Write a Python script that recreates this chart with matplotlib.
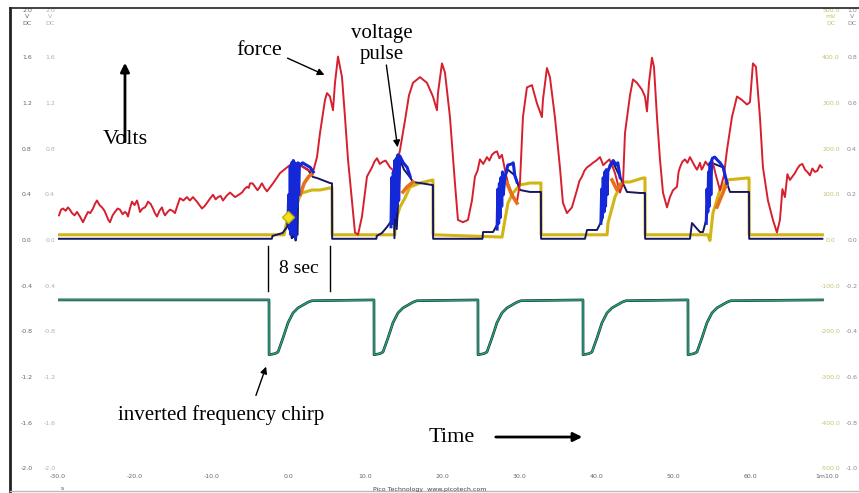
import numpy as np
import matplotlib
matplotlib.use("Agg")
import matplotlib.pyplot as plt
from matplotlib.lines import Line2D

nan = float("nan")

# ---------------- data (seconds, volts) ----------------
red_t = [-29.87,-29.35,-28.70,-28.18,-27.53,-26.75,-26.10,-25.45,-24.93,-24.28,
         -23.63,-23.24,-22.59,-21.94,-21.29,-20.90,-20.38,-19.73,-19.34,-18.69,
         -18.30,-17.65,-17.13,-16.48,-16.09,-15.44,-14.79,-14.14,-13.23,-12.45,
         -11.93,-11.28,-10.62,-9.84,-9.19,-8.54,-7.63,-6.98,-6.07,-5.42,
         -5.03,-4.38,-3.73,-3.47,-2.82,-2.04,-1.13,-0.22,0.56,1.47,
         2.38,3.16,3.68,4.07,4.72,4.98,5.37,5.76,6.02,6.41,
         6.93,7.32,7.71,8.23,8.62,9.01,9.53,10.18,10.83,11.48,
         12.26,13.17,13.82,14.47,15.12,15.64,16.16,17.07,17.98,18.76,
         19.28,19.41,19.93,20.32,20.97,21.62,22.01,22.66,23.31,23.83,
         24.22,24.87,25.78,26.43,27.08,27.73,28.12,28.51,29.16,29.68,
         30.07,30.46,30.98,31.63,32.28,32.93,33.06,33.58,33.97,34.62,
         35.27,35.66,36.18,36.83,37.48,38.14,38.79,39.57,40.48,41.39,
         42.04,42.43,43.08,43.47,43.73,44.38,44.77,45.29,45.94,46.33,
         46.59,46.85,47.24,47.50,47.89,48.28,48.67,49.19,49.58,49.97,
         50.49,50.88,51.53,52.18,52.57,53.09,53.48,53.87,54.52,55.04,
         55.56,56.08,56.60,56.99,57.64,58.29,58.94,59.59,59.98,60.37,
         60.76,61.28,61.67,62.32,62.97,63.49,63.88,64.53,65.18,65.83,
         66.48,67.13,67.78,68.43,69.08,69.34]
red_v = [0.22,0.28,0.29,0.24,0.25,0.16,0.25,0.28,0.35,0.29,
         0.21,0.16,0.25,0.27,0.25,0.21,0.34,0.35,0.25,0.29,
         0.34,0.28,0.21,0.29,0.22,0.27,0.24,0.37,0.38,0.38,
         0.34,0.28,0.33,0.40,0.38,0.35,0.42,0.38,0.42,0.47,
         0.50,0.47,0.47,0.50,0.43,0.50,0.59,0.64,0.68,0.66,
         0.62,0.60,0.73,0.94,1.23,1.29,1.26,1.14,1.38,1.61,
         1.43,1.08,0.71,0.35,0.07,0.05,0.21,0.56,0.64,0.72,
         0.69,0.64,0.60,0.79,1.05,1.27,1.38,1.43,1.38,1.26,
         1.14,1.29,1.55,1.47,1.08,0.50,0.18,0.16,0.18,0.35,
         0.56,0.71,0.73,0.75,0.78,0.75,0.62,0.50,0.38,0.34,
         0.50,1.08,1.34,1.36,1.20,1.08,1.23,1.51,1.43,1.08,
         0.64,0.33,0.24,0.29,0.44,0.56,0.64,0.68,0.73,0.69,
         0.66,0.59,0.42,0.50,0.94,1.27,1.41,1.38,1.32,1.26,
         1.13,1.38,1.60,1.52,1.08,0.71,0.42,0.29,0.38,0.44,
         0.47,0.64,0.71,0.73,0.68,0.62,0.68,0.64,0.66,0.71,
         0.57,0.44,0.57,0.79,1.08,1.26,1.23,1.19,1.21,1.55,
         1.52,1.08,0.64,0.35,0.18,0.07,0.18,0.38,0.53,0.59,
         0.66,0.62,0.57,0.60,0.66,0.64]
# extra jagged readings of the noisy force trace
red_extra_t = [-29.6, -29.0, -28.45, -27.85, -27.15, -26.4, -25.8, -25.2, -24.6, -23.95,
               -23.45, -22.9, -22.25, -21.6, -21.1, -20.65, -20.05, -19.55, -19.0, -18.5,
               -17.95, -17.4, -16.8, -16.3, -15.75, -15.1, -14.45, -13.7, -12.85, -12.2,
               -11.6, -10.95, -10.2, -9.5, -8.85, -8.1, -7.3, -6.5, -5.75, -5.2,
               -4.7, -4.05, -3.6, -3.15, 10.5, 11.15, 11.85, 12.6, 13.5,
               24.55, 25.3, 26.1, 26.75, 27.4, 37.8, 38.45, 39.2, 40.0, 40.9, 41.7,
               50.7, 51.2, 51.85, 52.9, 53.3, 53.7, 54.2, 54.8,
               64.2, 64.85, 65.5, 66.15, 66.8, 67.45, 68.1, 68.75]
red_extra_v = [0.27, 0.26, 0.27, 0.22, 0.21, 0.21, 0.24, 0.32, 0.31, 0.26,
               0.18, 0.22, 0.28, 0.23, 0.24, 0.28, 0.31, 0.31, 0.28, 0.31,
               0.32, 0.24, 0.26, 0.25, 0.25, 0.26, 0.31, 0.35, 0.35, 0.36,
               0.31, 0.30, 0.37, 0.36, 0.39, 0.39, 0.40, 0.40, 0.45, 0.46,
               0.50, 0.44, 0.49, 0.46, 0.60, 0.69, 0.67, 0.70, 0.62,
               0.61, 0.67, 0.70, 0.77, 0.72, 0.52, 0.61, 0.66, 0.70, 0.66, 0.71,
               0.60, 0.69, 0.68, 0.64, 0.65, 0.62, 0.69, 0.67,
               0.45, 0.58, 0.56, 0.63, 0.67, 0.60, 0.63, 0.61]

navy_t = [-30, -2.2, -2.1, -0.8, -0.2, 0.15, 0.3, 0.4, 0.5, 0.6,
          0.75, 0.9, 1.0, 1.15, 1.3, 1.5, 2.5, 3.16, 3.68, 4.33,
          5.37, 5.63, 5.65, 11.4, 11.45, 12.13, 12.78, 13.43, 13.6, 13.75,
          13.9, 14.05, 14.5, 15.0, 15.76, 16.15, 17.07, 18.63, 18.76, 18.78,
          25.2, 25.27, 26.57, 27.22, 27.8, 28.5, 29.4, 30.07, 31.37, 32.67,
          32.8, 32.82, 38.53, 38.79, 40.09, 40.74, 41.4, 42.2, 43.08, 43.99,
          45.68, 46.33, 46.35, 52.18, 52.44, 53.48, 53.87, 54.39, 55.0, 56.47,
          56.99, 57.38, 59.59, 59.86, 59.88, 69.4]
navy_v = [0.015, 0.015, 0.04, 0.066, 0.12, 0.24, 0.5, 0.02, 0.6, 0.03,
          0.65, 0.0, 0.62, 0.05, 0.66, 0.66, 0.62, 0.556, 0.547, 0.53,
          0.503, 0.50, 0.015, 0.015, 0.04, 0.066, 0.118, 0.179, 0.5, 0.02,
          0.6, 0.1, 0.7, 0.62, 0.556, 0.512, 0.503, 0.486, 0.486, 0.015,
          0.015, 0.074, 0.074, 0.153, 0.5, 0.62, 0.57, 0.442, 0.425, 0.425,
          0.425, 0.015, 0.015, 0.092, 0.092, 0.179, 0.6, 0.68, 0.556, 0.425,
          0.416, 0.416, 0.015, 0.015, 0.153, 0.074, 0.074, 0.206, 0.68, 0.64,
          0.503, 0.425, 0.425, 0.425, 0.015, 0.015]

yel_t = [-30, -0.6, -0.1, 0.3, 0.6, 1.0, 1.5, 1.73, 3.03, 4.07,
         5.37, 5.63, 5.65, 13.8, 13.82, 14.47, 15.12, 15.76, 17.07, 18.76,
         18.78, 27.74, 28.12, 28.51, 29.16, 30.07, 31.37, 32.67, 32.8, 32.82,
         41.4, 41.52, 42.43, 43.34, 44.38, 46.07, 46.33, 46.35, 54.5, 54.78,
         55.17, 56.08, 56.99, 59.59, 59.86, 59.88, 69.4]
yel_v = [0.05, 0.05, 0.21, 0.35, 0.05, 0.3, 0.40, 0.416, 0.442, 0.442,
         0.46, 0.46, 0.05, 0.05, 0.153, 0.293, 0.372, 0.468, 0.503, 0.53,
         0.05, 0.03, 0.179, 0.328, 0.416, 0.486, 0.503, 0.503, 0.503, 0.05,
         0.05, 0.153, 0.381, 0.512, 0.512, 0.547, 0.547, 0.05, 0.05, 0.0,
         0.241, 0.442, 0.53, 0.547, 0.547, 0.05, 0.05]
marker_t = [-0.1]
marker_v = [0.21]

orange_t = [1.5, 2.0, 2.6, 3.0, nan, 14.86, 15.38, 16.16, nan, 28.38, 29.03, 29.68,
            nan, 42.04, 42.69, 43.08, nan, 55.69, 56.34, 56.99]
orange_v = [0.40, 0.50, 0.56, 0.58, nan, 0.425, 0.468, 0.512, nan, 0.503, 0.398, 0.328,
            nan, 0.53, 0.442, 0.486, nan, 0.293, 0.398, 0.503]

blue_t = [-0.1, 0.0, 0.1, 0.2, 0.3, 0.4, 0.5, 0.6, 0.7, 0.8, 0.9, 1.0, 1.1, 1.2, 1.3, 1.4, 1.5,
          1.8, 2.3, 2.8, 3.2, nan,
          13.3, 13.4, 13.5, 13.6, 13.7, 13.8, 13.9, 14.0, 14.1, 14.2, 14.3, 14.45, 14.9, 15.4, 15.8, nan,
          27.1, 27.2, 27.3, 27.4, 27.5, 27.6, 27.7, 27.8, 27.9, 28.1, 28.5, 29.0, 29.2, 29.4, 29.7, nan,
          40.6, 40.7, 40.8, 40.9, 41.0, 41.1, 41.2, 41.3, 41.4, 41.5, 41.8, 42.2, 42.6, 42.8, 43.1, nan,
          54.3, 54.4, 54.5, 54.6, 54.7, 54.8, 54.9, 55.0, 55.1, 55.4, 55.8, 56.1, 56.5, 57.0]
blue_v = [0.15, 0.4, 0.1, 0.65, 0.05, 0.68, 0.1, 0.7, 0.05, 0.68, 0.02, 0.66, 0.3, 0.68, 0.4, 0.67, 0.66,
          0.68, 0.66, 0.64, 0.6, nan,
          0.12, 0.55, 0.15, 0.6, 0.2, 0.7, 0.25, 0.72, 0.3, 0.75, 0.35, 0.74, 0.68, 0.64, 0.56, nan,
          0.1, 0.45, 0.15, 0.5, 0.2, 0.55, 0.3, 0.6, 0.4, 0.55, 0.66, 0.67, 0.68, 0.57, 0.51, nan,
          0.15, 0.45, 0.2, 0.55, 0.25, 0.6, 0.3, 0.62, 0.4, 0.6, 0.66, 0.70, 0.66, 0.68, 0.55, nan,
          0.15, 0.45, 0.25, 0.6, 0.3, 0.68, 0.4, 0.7, 0.72, 0.73, 0.70, 0.68, 0.64, 0.5]

chirp_t = [-30,
           -2.56, -2.55, -1.78, -1.39, -0.74, -0.09, 0.56, 1.21, 1.86, 2.51, 3.03,
           11.09, 11.10, 11.87, 12.26, 12.91, 13.56, 14.21, 14.86, 15.51, 16.16, 16.68,
           24.61, 24.62, 25.39, 25.78, 26.43, 27.08, 27.73, 28.38, 29.03, 29.68, 30.20,
           38.27, 38.28, 39.05, 39.44, 40.09, 40.74, 41.39, 42.04, 42.69, 43.34, 43.86,
           51.92, 51.93, 52.70, 53.09, 53.74, 54.39, 55.04, 55.69, 56.34, 56.99, 57.51,
           69.4]
chirp_v = [-0.52,
           -0.52, -1.0, -0.99, -0.976, -0.853, -0.72, -0.634, -0.59, -0.565, -0.54, -0.527,
           -0.52, -1.0, -0.99, -0.976, -0.853, -0.72, -0.634, -0.59, -0.565, -0.54, -0.527,
           -0.52, -1.0, -0.99, -0.976, -0.853, -0.72, -0.634, -0.59, -0.565, -0.54, -0.527,
           -0.52, -1.0, -0.99, -0.976, -0.853, -0.72, -0.634, -0.59, -0.565, -0.54, -0.527,
           -0.52, -1.0, -0.99, -0.976, -0.853, -0.72, -0.634, -0.59, -0.565, -0.54, -0.527,
           -0.52]

x_ticks = [-30, -20, -10, 0, 10, 20, 30, 40, 50, 60, 70]
x_labels = ["-30.0", "-20.0", "-10.0", "0.0", "10.0", "20.0", "30.0", "40.0", "50.0", "60.0", "1m10.0"]
y_ticks = [2.0, 1.6, 1.2, 0.8, 0.4, 0.0, -0.4, -0.8, -1.2, -1.6, -2.0]
left_labels = ["2.0", "1.6", "1.2", "0.8", "0.4", "0.0", "-0.4", "-0.8", "-1.2", "-1.6", "-2.0"]
right_mv_labels = ["500.0", "400.0", "300.0", "200.0", "100.0", "0.0",
                   "-100.0", "-200.0", "-300.0", "-400.0", "-500.0"]
right_v_labels = ["1.0", "0.8", "0.6", "0.4", "0.2", "0.0", "-0.2", "-0.4", "-0.6", "-0.8", "-1.0"]

# merge the two sets of force readings in time order
rt = np.array(red_t + red_extra_t)
rv = np.array(red_v + red_extra_v)
order = np.argsort(rt)
rt, rv = rt[order], rv[order]

# ---------------- figure ----------------
W, H = 859, 493
fig = plt.figure(figsize=(W / 100, H / 100), dpi=100)
fig.patch.set_facecolor("white")
ax = fig.add_axes([58 / W, 1 - 469 / H, 769 / W, 457 / H])
ax.set_xlim(-30, 70)
ax.set_ylim(-2, 2)
for s in ax.spines.values():
    s.set_visible(False)
ax.set_yticks([])
ax.set_xticks(x_ticks)
ax.set_xticklabels(x_labels)
ax.tick_params(axis="x", length=0, pad=3.5, labelsize=4.5, labelcolor="#666666")

serif = ["Liberation Serif", "DejaVu Serif"]

# traces
ax.plot(chirp_t, chirp_v, color="#1c2a24", lw=1.9, zorder=2, solid_joinstyle="round")
ax.plot(chirp_t, chirp_v, color="#22a283", lw=1.1, zorder=3, solid_joinstyle="round")
ax.plot(yel_t, yel_v, color="#d2b514", lw=2.2, zorder=3)
ax.plot(navy_t, navy_v, color="#161660", lw=1.4, zorder=4)
ax.plot(rt, rv, color="#d6202e", lw=1.4, zorder=5)
ax.plot(orange_t, orange_v, color="#e8701a", lw=2.6, zorder=6)
ax.plot(blue_t, blue_v, color="#1428d8", lw=2.2, zorder=7)
ax.plot(marker_t, marker_v, linestyle="none", marker="D", ms=6,
        mfc="#f2e21c", mec="#c8b000", zorder=8)

# tick label columns
ytr = ax.get_yaxis_transform()
for yv, l1, l2, r1, r2 in zip(y_ticks, left_labels, left_labels, right_mv_labels, right_v_labels):
    top = (yv == 2.0)
    if top:
        l1 = l1 + "\nV\nDC"
        l2 = l2 + "\nV\nDC"
        r1 = r1 + "\nmV\nDC"
        r2 = r2 + "\nV\nDC"
    va = "top" if top else "center"
    yy = yv + 0.035 if top else yv
    kw = dict(transform=ytr, fontsize=4.5, va=va, ha="center", linespacing=1.35)
    ax.text((27 - 58) / 769, yy, l1, color="#666666", **kw)
    ax.text((50 - 58) / 769, yy, l2, color="#a8b4a8", **kw)
    ax.text((831 - 58) / 769, yy, r1, color="#c8c070", **kw)
    ax.text((852 - 58) / 769, yy, r2, color="#888888", **kw)

fig.text(62 / W, 1 - 489 / H, "s", fontsize=4.5, color="#555555", ha="center", va="center")
fig.text(430 / W, 1 - 489 / H, "Pico Technology  www.picotech.com", fontsize=4.5,
         color="#444444", ha="center", va="center")

# frame
fig.add_artist(Line2D([10 / W, 10 / W], [0, 1 - 8 / H], color="#222222", lw=2))
fig.add_artist(Line2D([10 / W, 1], [1 - 8 / H, 1 - 8 / H], color="#222222", lw=1.2))
fig.add_artist(Line2D([10 / W, 1], [1 - 491 / H, 1 - 491 / H], color="#bbbbbb", lw=1))

# annotations
ax.text(-3.86, 1.667, "force", family=serif, fontsize=16, ha="center", va="center")
ax.annotate("", xy=(4.98, 1.44), xytext=(-0.48, 1.606),
            arrowprops=dict(arrowstyle="-|>", color="black", lw=1, mutation_scale=10))
ax.text(12.13, 1.72, "voltage\npulse", family=serif, fontsize=15, ha="center", va="center",
        linespacing=1.15)
ax.annotate("", xy=(14.21, 0.792), xytext=(12.65, 1.56),
            arrowprops=dict(arrowstyle="-|>", color="black", lw=1, mutation_scale=10))
ax.text(-21.29, 0.88, "Volts", family=serif, fontsize=16, ha="center", va="center")
ax.annotate("", xy=(-21.29, 1.58), xytext=(-21.29, 0.84),
            arrowprops=dict(arrowstyle="-|>", color="black", lw=2, mutation_scale=13))
ax.plot([-2.69, -2.69], [-0.048, -0.442], color="black", lw=1)
ax.plot([5.37, 5.37], [-0.048, -0.442], color="black", lw=1)
ax.text(1.34, -0.241, "8 sec", family=serif, fontsize=14, ha="center", va="center")
ax.text(-8.8, -1.527, "inverted frequency chirp", family=serif, fontsize=15,
        ha="center", va="center")
ax.annotate("", xy=(-2.82, -1.081), xytext=(-4.38, -1.379),
            arrowprops=dict(arrowstyle="-|>", color="black", lw=1, mutation_scale=10))
ax.text(21.24, -1.72, "Time", family=serif, fontsize=16, ha="center", va="center")
ax.annotate("", xy=(38.54, -1.72), xytext=(26.57, -1.72),
            arrowprops=dict(arrowstyle="-|>", color="black", lw=2, mutation_scale=13))

fig.savefig("out.png", dpi=100, facecolor="white")
